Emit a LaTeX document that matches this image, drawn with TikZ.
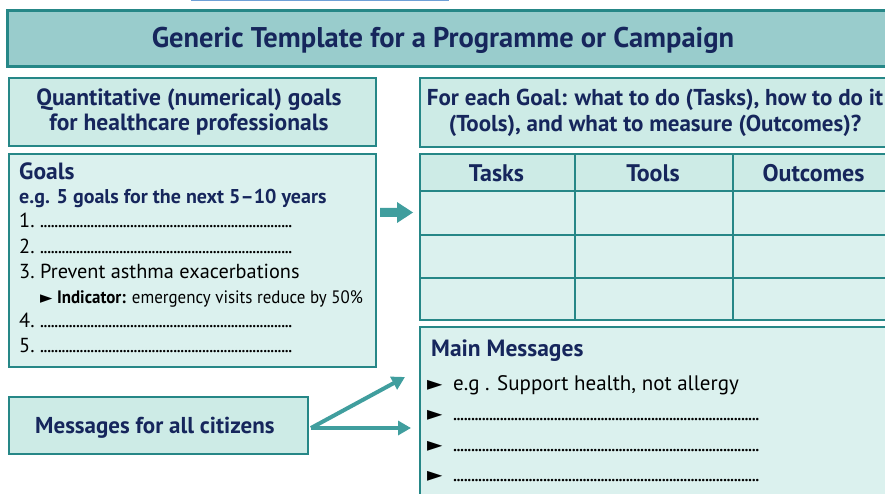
\documentclass[tikz,border=0pt]{standalone}
\usepackage{graphicx}
\usepackage{fontspec}
\setmainfont{PT Sans}
\newfontfamily\symfont{DejaVu Sans}
\usetikzlibrary{arrows.meta}

\definecolor{navy}{RGB}{22,38,92}
\definecolor{tealline}{RGB}{38,135,135}
\definecolor{titlefill}{RGB}{153,204,204}
\definecolor{headfill}{RGB}{205,235,230}
\definecolor{bodyfill}{RGB}{219,241,238}
\definecolor{arrowteal}{RGB}{64,158,158}
\definecolor{topblue}{RGB}{110,160,215}

\newcommand\dotrow[1]{\makebox[#1]{\leaders\hbox to 3.6pt{\hss.\hss}\hfill}}
\newcommand\tri{{\symfont\scalebox{0.95}{►}}}

\tikzset{
  titlebox/.style={draw=tealline, line width=3pt, fill=titlefill, anchor=north west, inner sep=0pt},
  headbox/.style={draw=tealline, line width=1.8pt, fill=headfill, anchor=north west, inner sep=0pt},
  bodybox/.style={draw=tealline, line width=1.8pt, fill=bodyfill, anchor=north west, inner sep=0pt},
  hd/.style={inner sep=0pt, text=navy, font=\bfseries\fontsize{23.5}{26}\selectfont},
  txt/.style={inner sep=0pt, anchor=base west, font=\fontsize{20.3}{22}\selectfont},
  msgarrow/.style={draw=arrowteal, line width=4pt, -{Triangle[length=13pt,width=14pt]}},
}

\begin{document}
\begin{tikzpicture}[x=1pt, y=-1pt]
\useasboundingbox (0,0) rectangle (885,494);
\clip (0,0) rectangle (885,494);

\fill[topblue] (191,0) rectangle (449,1.5);

% boxes
\node[titlebox, minimum width=895pt, minimum height=56pt] (title) at (5.5,9.5) {};
\node[headbox, minimum width=367pt, minimum height=68pt] (quant) at (8,77) {};
\node[bodybox, minimum width=367pt, minimum height=213pt] (goals) at (8,153) {};
\node[headbox, minimum width=299pt, minimum height=57pt] (citizens) at (8,396) {};
\node[headbox, minimum width=480pt, minimum height=69pt] (question) at (419,77) {};
\node[bodybox, minimum width=480pt, minimum height=180pt] (mainmsg) at (419,326) {};

% table
\foreach \xa/\xb/\name in {419/574/Tasks, 574/732/Tools, 732/895/Outcomes}{
  \node[headbox, minimum width={(\xb-\xa)*1pt}, minimum height=37.5pt] (h\name) at (\xa,153) {};
  \node[hd, anchor=base, font=\bfseries\fontsize{24}{26}\selectfont] at ({(\xa+\xb)/2},182) {\name};
  \foreach \ya/\yb in {190.5/234, 234/277, 277/319}
    \node[bodybox, minimum width={(\xb-\xa)*1pt}, minimum height={(\yb-\ya)*1pt}] at (\xa,\ya) {};
}

% texts
\node[hd, anchor=base, font=\bfseries\fontsize{28.5}{30}\selectfont] (titletxt) at (443,48) {Generic Template for a Programme or Campaign};
\node[hd, anchor=base] at (189,106) {Quantitative (numerical) goals};
\node[hd, anchor=base] at (189,131) {for healthcare professionals};
\node[hd, anchor=base, font=\bfseries\fontsize{23}{26}\selectfont] at (655,106) {For each Goal: what to do (Tasks), how to do it};
\node[hd, anchor=base, font=\bfseries\fontsize{23}{26}\selectfont] at (655,132) {(Tools), and what to measure (Outcomes)?};

\node[hd, anchor=base west] at (19,180) {Goals};
\node[hd, anchor=base west, font=\bfseries\fontsize{20}{22}\selectfont] at (19,204) {e.g. 5 goals for the next 5--10 years};
\foreach \n/\y in {1/228, 2/253, 4/327, 5/352}
  \node[txt] at (19,\y) {\makebox[21pt][l]{\n.}\dotrow{255pt}};
\node[txt] at (19,278) {\makebox[21pt][l]{3.}Prevent asthma exacerbations};
\node[txt, font=\fontsize{18}{20}\selectfont] at (40,303) {\scalebox{0.94}[1]{\tri\ \textbf{Indicator:} emergency visits reduce by 50\%}};

\node[hd, anchor=base west, font=\bfseries\fontsize{23}{26}\selectfont] at (35,433) {Messages for all citizens};

\node[hd, anchor=base west] at (431,356) {Main Messages};
\node[txt, font=\fontsize{21}{22}\selectfont] at (427,390) {\makebox[26pt][l]{\tri}e.g . Support health, not allergy};
\foreach \y in {420, 451, 481}
  \node[txt, font=\fontsize{21}{22}\selectfont] at (427,\y) {\makebox[26pt][l]{\tri}\dotrow{307pt}};

% arrows
\fill[arrowteal] (380,208) -- (397,208) -- (397,202) -- (413,212.5) -- (397,223) -- (397,217) -- (380,217) -- cycle;
\coordinate (c0) at (311,428);
\coordinate (m1) at (405,377);
\coordinate (m2) at (411,428);
\draw[msgarrow] (c0) -- (m1);
\draw[msgarrow] (c0) -- (m2);
\end{tikzpicture}
\end{document}
